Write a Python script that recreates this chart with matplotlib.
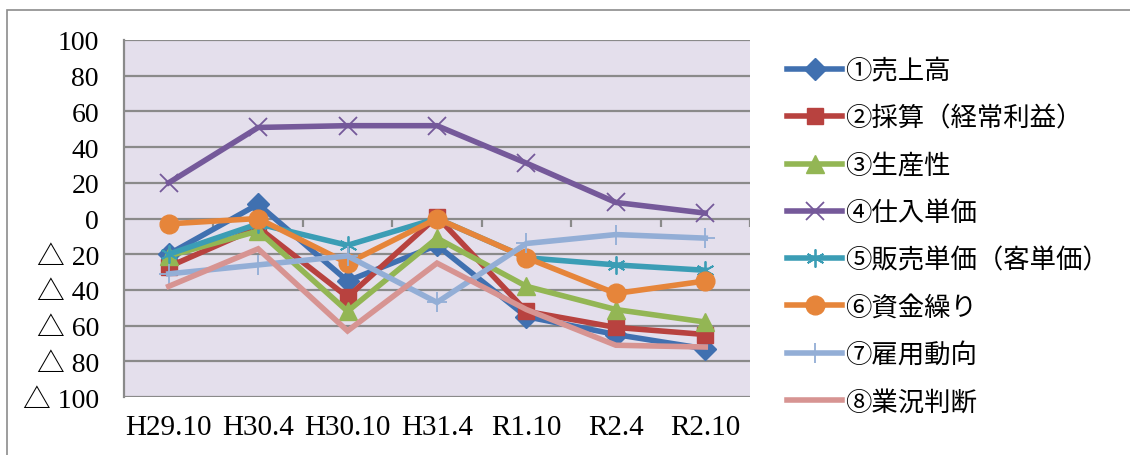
import matplotlib.pyplot as plt
from matplotlib.patches import Rectangle

plt.rcParams['font.family'] = ['Liberation Serif', 'Noto Sans CJK JP']

periods = ["H29.10", "H30.4", "H30.10", "H31.4", "R1.10", "R2.4", "R2.10"]

sales      = [-20, 8, -35, -15, -55, -65, -73]
profit     = [-27, -5, -44, 1, -52, -61, -65]
productiv  = [-21, -7, -52, -11, -38, -51, -58]
buy_price  = [20, 51, 52, 52, 31, 9, 3]
sell_price = [-20, -3, -15, 0, -22, -26, -29]
cashflow   = [-3, 0, -25, 0, -22, -42, -35]
employ     = [-31, -26, -21, -47, -14, -9, -11]
business   = [-38, -17, -63, -25, -51, -71, -72]

labels = ["①売上高", "②採算（経常利益）", "③生産性", "④仕入単価",
          "⑤販売単価（客単価）", "⑥資金繰り", "⑦雇用動向", "⑧業況判断"]

# (data, colour, marker, markersize, marker edge width)
series = [
    (sales,      '#4070B0', 'D', 11, 1),
    (profit,     '#B8423F', 's', 11, 1),
    (productiv,  '#93B654', '^', 13, 1),
    (buy_price,  '#75599A', 'x', 13, 1.3),
    (sell_price, '#3B9DB5', (6, 2, 0), 13, 1.3),
    (cashflow,   '#E6853A', 'o', 13.5, 1),
    (employ,     '#93AED6', '+', 15, 1.3),
    (business,   '#D79492', None, 0, 1),
]

fig = plt.figure(figsize=(11.3, 4.56), dpi=100)
ax = fig.add_axes([124/1130, 1-398/456, (750-124)/1130, (398-41)/456])
ax.set_facecolor('#E4DFEC')

x = range(len(periods))
for (vals, col, mk, ms, mew), lab in zip(series, labels):
    ax.plot(x, vals, color=col, lw=4, marker=mk, markersize=ms,
            markeredgewidth=mew, markeredgecolor=col, markerfacecolor=col,
            label=lab, solid_joinstyle='miter')

ax.set_xlim(-0.5, len(periods)-0.5)
ax.set_ylim(-100, 100)
yt = list(range(-100, 101, 20))
ax.set_yticks(yt)
ax.set_yticklabels([str(v) if v >= 0 else "△ " + str(-v) for v in yt], fontsize=20)
ax.set_xticks(list(x))
ax.set_xticklabels(periods, fontsize=21)
ax.tick_params(axis='both', length=0)
ax.tick_params(axis='y', pad=18)
ax.tick_params(axis='x', pad=12)
ax.grid(axis='y', color='#8A8A8A', lw=1.6)
ax.set_axisbelow(True)
for s in ['top', 'right', 'bottom']:
    ax.spines[s].set_visible(False)
ax.spines['left'].set_color('#8A8A8A')
ax.spines['left'].set_linewidth(1.6)
# category boundary ticks on the zero line
ax.vlines([i + 0.5 for i in x], -4.5, 0, color='#8A8A8A', lw=1.6, zorder=1.5)

fig.legend(loc='upper left', bbox_to_anchor=(787/1130, 1-59/456), frameon=False,
           fontsize=19, handlelength=2.1, handletextpad=0.1, labelspacing=0.85,
           borderaxespad=0, borderpad=0)

fig.patches.append(Rectangle((7/1130, -0.05), 1.2, 1-11/456+0.05,
                             transform=fig.transFigure, fill=False,
                             edgecolor='#8C8C8C', lw=1.2))

fig.savefig('out.png', dpi=100)
